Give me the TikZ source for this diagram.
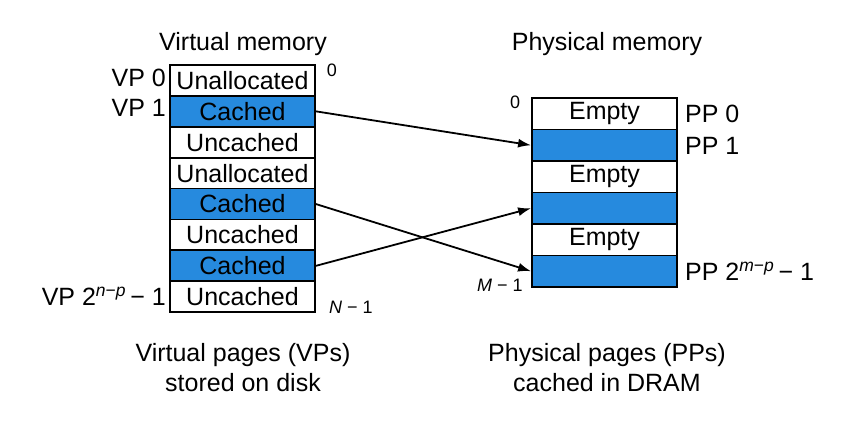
\documentclass[tikz,border=0pt]{standalone}
\usepackage{fontspec}
\setmainfont{Liberation Sans}
\usetikzlibrary{arrows.meta}
\definecolor{pageblue}{RGB}{38,138,222}
\tikzset{
  cell/.style={draw=black, line width=1.8pt, minimum width=145pt, inner sep=0pt, font=\fontsize{25}{27}\selectfont, text=black},
  vcell/.style={cell, minimum height=30.9pt},
  pcell/.style={cell, minimum height=31.5pt},
  cached/.style={fill=pageblue},
  lbl/.style={font=\fontsize{25}{27}\selectfont, inner sep=0pt},
  small/.style={font=\fontsize{18}{20}\selectfont, inner sep=0pt},
  arr/.style={line width=1.8pt, -{Latex[length=13pt,width=9pt]}}
}
\begin{document}
\begin{tikzpicture}[x=1pt,y=-1pt]
\useasboundingbox (0,0) rectangle (862,430);
% virtual memory
\node[lbl] (vt) at (243,44) {Virtual memory};
\node[vcell] (v0) at (242.5,80.45) {Unallocated};
\node[vcell,cached] (v1) at (242.5,111.35) {Cached};
\node[vcell] (v2) at (242.5,142.25) {Uncached};
\node[vcell] (v3) at (242.5,173.15) {Unallocated};
\node[vcell,cached] (v4) at (242.5,204.05) {Cached};
\node[vcell] (v5) at (242.5,234.95) {Uncached};
\node[vcell,cached] (v6) at (242.5,265.85) {Cached};
\node[vcell] (v7) at (242.5,296.75) {Uncached};
\node[lbl,anchor=east] (vp0) at (166,78) {VP 0};
\node[lbl,anchor=east] (vp1) at (166,108) {VP 1};
\node[lbl,anchor=east] (vpn) at (166,296) {VP 2\textsuperscript{\textit{n}−\textit{p}}\,− 1};
\node[small] (vz) at (332,70) {0};
\node[small] (vn) at (351,307) {\textit{N} − 1};
% physical memory
\node[lbl] (pt) at (607,44) {Physical memory};
\node[pcell] (p0) at (604.5,113.75) {Empty};
\node[pcell,cached] (p1) at (604.5,145.25) {};
\node[pcell] (p2) at (604.5,176.75) {Empty};
\node[pcell,cached] (p3) at (604.5,208.25) {};
\node[pcell] (p4) at (604.5,239.75) {Empty};
\node[pcell,cached] (p5) at (604.5,271.25) {};
\node[lbl,anchor=west] (pp0) at (685,114) {PP 0};
\node[lbl,anchor=west] (pp1) at (685,146) {PP 1};
\node[lbl,anchor=west] (ppm) at (685,271) {PP 2\textsuperscript{\textit{m}−\textit{p}}\,− 1};
\node[small] (pz) at (515,102) {0};
\node[small] (pm) at (500,285) {\textit{M} − 1};
% mappings
\draw[arr] (v1.east) -- (p1.west);
\draw[arr] (v4.east) -- (p5.west);
\draw[arr] (v6.east) -- (p3.west);
% captions
\node[lbl] (vc1) at (243,355) {Virtual pages (VPs)};
\node[lbl] (vc2) at (243,383) {stored on disk};
\node[lbl] (pc1) at (607,355) {Physical pages (PPs)};
\node[lbl] (pc2) at (607,383) {cached in DRAM};
\end{tikzpicture}
\end{document}
